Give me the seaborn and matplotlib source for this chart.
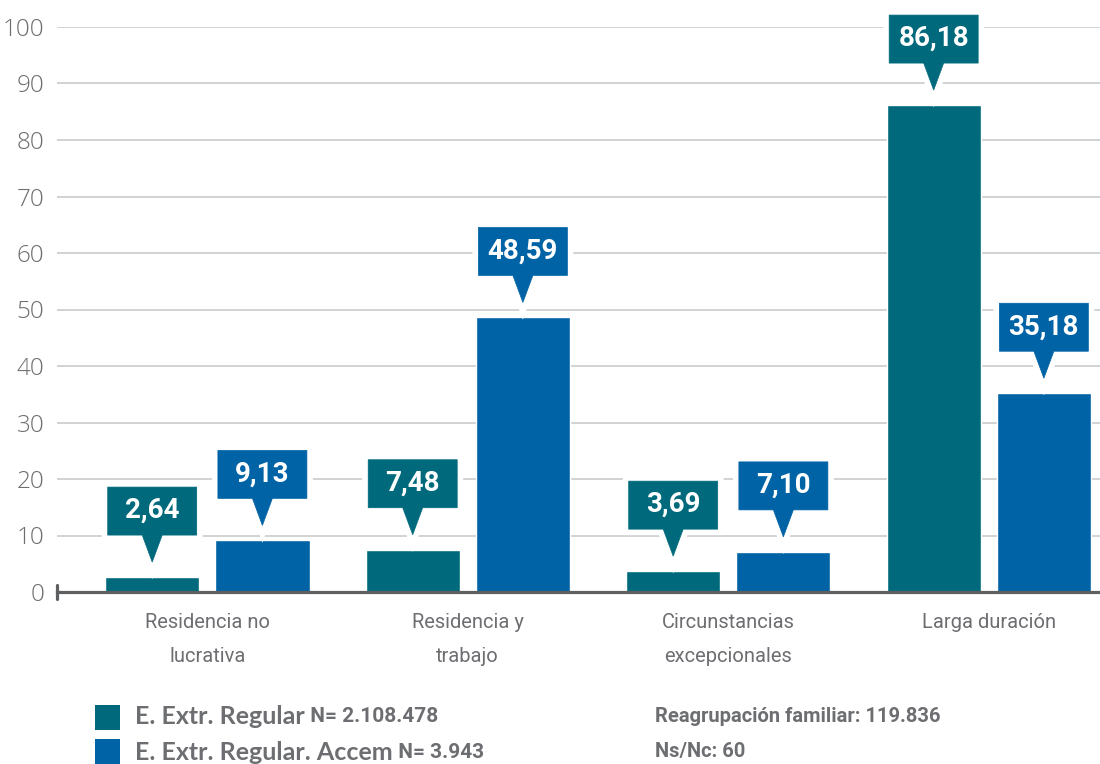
import numpy as np
import pandas as pd
import seaborn as sns
import matplotlib.pyplot as plt
from matplotlib import transforms as mtransforms
from matplotlib import font_manager
from matplotlib.patches import Polygon, Rectangle
import matplotlib.patheffects as pe

categories = ["Residencia no\nlucrativa", "Residencia y\ntrabajo",
              "Circunstancias\nexcepcionales", "Larga duración"]
series = ["E. Extr. Regular", "E. Extr. Regular. Accem"]
regular = [2.64, 7.48, 3.69, 86.18]
accem = [9.13, 48.59, 7.10, 35.18]
n_labels = ["N= 2.108.478", "N= 3.943"]
notes = ["Reagrupación familiar: 119.836", "Ns/Nc: 60"]
yticks = [0, 10, 20, 30, 40, 50, 60, 70, 80, 90, 100]

TEAL = "#006A7C"
BLUE = "#0063A6"
GRAY = "#6D6E71"
colors = [TEAL, BLUE]

df = pd.DataFrame({
    "cat": categories * 2,
    "serie": [series[0]] * len(categories) + [series[1]] * len(categories),
    "valor": regular + accem,
})

sns.set_theme(style="white")
names = {f.name for f in font_manager.fontManager.ttflist}
NARROW = "Liberation Sans Narrow" if "Liberation Sans Narrow" in names else "Roboto"
plt.rcParams["font.family"] = ["Open Sans", "DejaVu Sans"]

W, H = 1100, 764
fig = plt.figure(figsize=(W / 100, H / 100), dpi=100)
ax = fig.add_axes([57 / W, 172 / H, 1043 / W, 565 / H])

sns.barplot(data=df, x="cat", y="valor", hue="serie", palette=colors,
            width=0.846, gap=0.145, saturation=1, errorbar=None,
            legend=False, ax=ax, zorder=2)

ax.set_xlim(-0.577, 3.427)
ax.set_ylim(0, 100)
ax.set_yticks(yticks)
ax.set_xlabel("")
ax.set_ylabel("")
ax.yaxis.grid(True, color="#CDCFD1", lw=1.3)
ax.set_axisbelow(True)
for s in ["top", "right", "left"]:
    ax.spines[s].set_visible(False)
ax.spines["bottom"].set_color("#5E5F61")
ax.spines["bottom"].set_linewidth(2.3)
ax.spines["bottom"].set_zorder(4)
ax.plot([0, 0], [-0.013, 0.013], transform=ax.transAxes, color="#5E5F61",
        lw=2.3, clip_on=False, zorder=4)

ax.tick_params(axis="y", length=0, pad=9, labelcolor=GRAY)
for lbl in ax.get_yticklabels():
    lbl.set_fontsize(17.5)
    lbl.set_fontweight("light")
ax.tick_params(axis="x", length=0, pad=15, labelcolor=GRAY)
for lbl in ax.get_xticklabels():
    lbl.set_family([NARROW, "DejaVu Sans"])
    lbl.set_fontsize(14.5)
    lbl.set_linespacing(2.0)
    lbl.set_va("top")

# callouts above each bar
bars = list(ax.patches)
for bar in bars:
    x = bar.get_x() + bar.get_width() / 2
    h = bar.get_height()
    fc = bar.get_facecolor()
    trans = fig.dpi_scale_trans + mtransforms.ScaledTranslation(x, h, ax.transData)
    px = [(0, 15), (10, 42), (44.5, 42), (44.5, 90), (-44.5, 90), (-44.5, 42), (-10, 42)]
    verts = [(a / 100, b / 100) for a, b in px]
    poly = Polygon(verts, closed=True, transform=trans, fc=fc, ec=fc, lw=0.5,
                   clip_on=False, zorder=5,
                   path_effects=[pe.Stroke(linewidth=8.6, foreground="white"), pe.Normal()])
    ax.add_patch(poly)
    ax.text(0, 0.665, f"{h:.2f}".replace(".", ","), transform=trans,
            ha="center", va="center", color="white", fontsize=20,
            fontweight="bold", family=[NARROW, "DejaVu Sans"], zorder=6)

# legend
rows_y = [717, 752]
for i in range(2):
    y = rows_y[i]
    fig.patches.append(Rectangle((95 / W, 1 - (y + 12.5) / H), 25 / W, 25 / H,
                                 transform=fig.transFigure, fc=colors[i], ec="none"))
    t = fig.text(135 / W, 1 - y / H, series[i], ha="left", va="center",
                 color=GRAY, fontsize=18, fontweight="bold",
                 family=["Lato", "Open Sans", "DejaVu Sans"])
    ax.annotate(" " + n_labels[i], xy=(1, 0.5), xycoords=t, ha="left", va="center",
                color=GRAY, fontsize=15, fontweight="bold",
                family=[NARROW, "DejaVu Sans"], annotation_clip=False)
    fig.text(655 / W, 1 - y / H, notes[i], ha="left", va="center",
             color=GRAY, fontsize=14.5, fontweight="bold",
             family=[NARROW, "DejaVu Sans"])

fig.savefig("out.png", dpi=100)
